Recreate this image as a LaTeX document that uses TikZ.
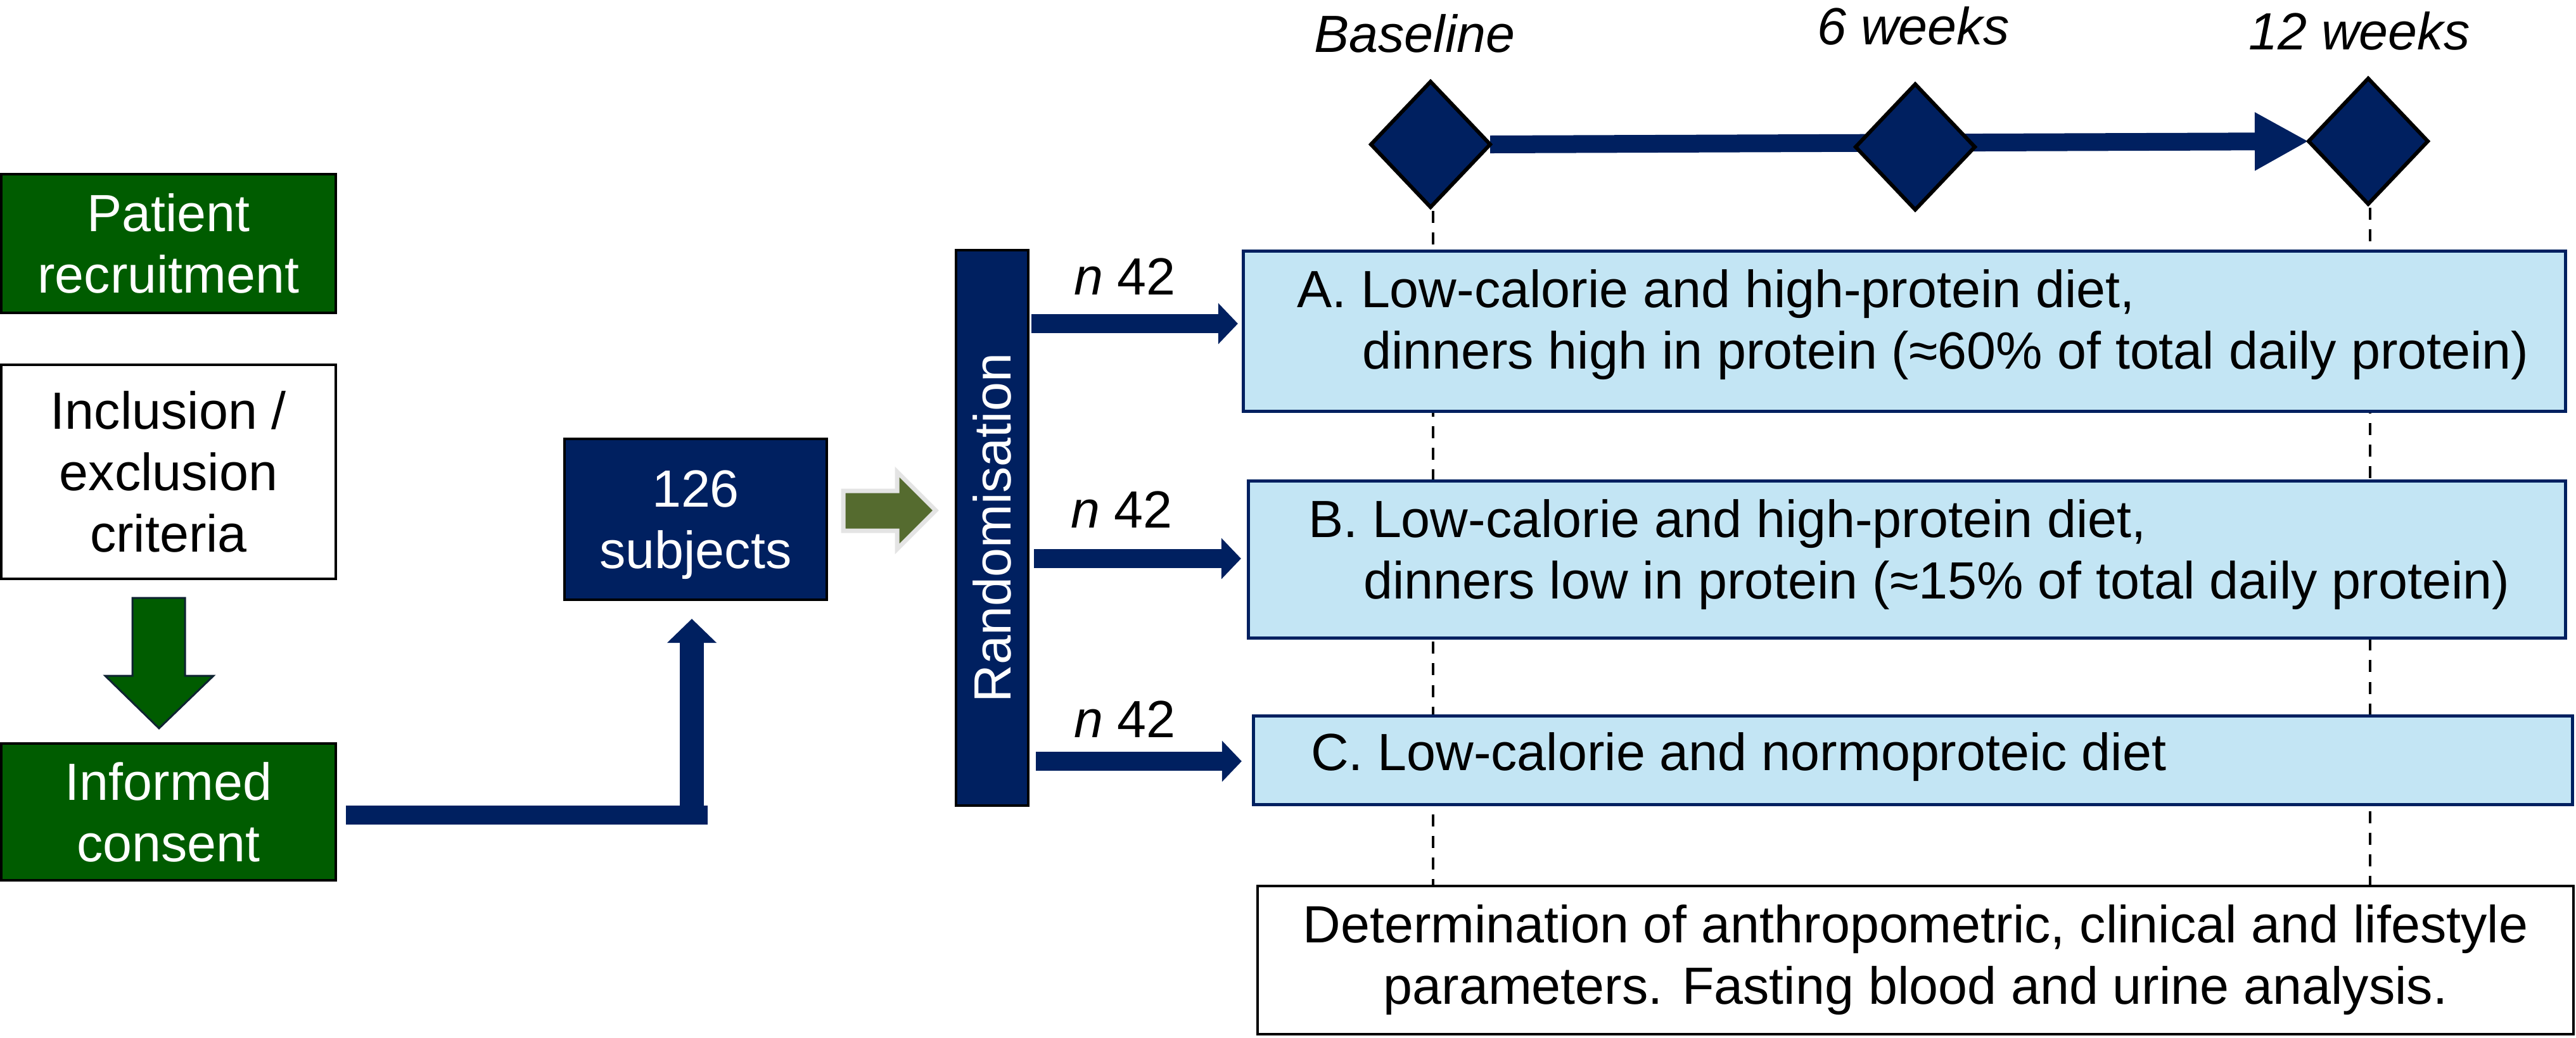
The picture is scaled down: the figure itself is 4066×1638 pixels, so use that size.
\documentclass[tikz,border=0pt]{standalone}
\usepackage{fontspec}
\setmainfont{Liberation Sans}
\usetikzlibrary{arrows.meta,shapes.geometric,calc}
\definecolor{navy}{RGB}{0,32,96}
\definecolor{dgreen}{RGB}{0,92,0}
\definecolor{olivefill}{RGB}{85,107,47}
\definecolor{olivedge}{RGB}{228,228,228}
\definecolor{lblue}{RGB}{195,229,244}
\definecolor{arrowedge}{RGB}{15,35,50}
\pgfdeclarelayer{background}
\pgfsetlayers{background,main}
\begin{document}
\begin{tikzpicture}[x=0.01cm,y=-0.01cm,
  every node/.style={font=\fontsize{23.5}{27.6}\selectfont, inner sep=0pt, outer sep=0pt},
  itfont/.style={font=\fontsize{23.5}{27.6}\selectfont\itshape},
  greenbox/.style={draw=black, line width=0.04cm, fill=dgreen, text=white, align=center},
  whitebox/.style={draw=black, line width=0.04cm, fill=white, align=center},
  navybox/.style={draw=black, line width=0.04cm, fill=navy, text=white, align=center},
  dietbox/.style={draw=navy, line width=0.05cm, fill=lblue},
  milestone/.style={diamond, draw=black, line width=0.06cm, fill=navy, minimum width=1.88cm, minimum height=1.98cm},
  grouparrow/.style={draw=navy, line width=0.3cm, -{Triangle[length=0.31cm,width=0.63cm]}},
  dashline/.style={draw=black, line width=0.04cm, dash pattern=on 0.19cm off 0.15cm}
]
\useasboundingbox (0,0) rectangle (4066,1638);

% left column
\node[greenbox, minimum width=5.28cm, minimum height=2.19cm] (pat) at (266,384.5) {Patient\\recruitment};
\node[whitebox, minimum width=5.28cm, minimum height=3.38cm] (incl) at (266,745) {Inclusion /\\exclusion\\criteria};
\node[greenbox, minimum width=5.28cm, minimum height=2.16cm] (inf) at (266,1282) {Informed\\consent};

% green block arrow
\draw[fill=dgreen, draw=arrowedge, line width=0.03cm]
  (209,944) -- (292,944) -- (292,1067) -- (337,1067) -- (251,1150) -- (166,1067) -- (209,1067) -- cycle;

% subjects
\node[navybox, minimum width=4.14cm, minimum height=2.54cm] (sub) at (1098,820) {126\\\smash{subjects}};

% L arrow
\coordinate (Lc) at (1092,1287);
\draw[draw=navy, line width=0.3cm] ($(inf.east)+(16,5)$) -- ($(Lc)+(25,0)$);
\draw[draw=navy, line width=0.38cm, -{Triangle[length=0.38cm,width=0.76cm]}, shorten >=0.3cm]
  ($(Lc)+(0,15)$) -- (Lc |- sub.south);

% olive block arrow
\draw[fill=olivefill, draw=olivedge, line width=0.07cm]
  (1331,775) -- (1416,775) -- (1416,745) -- (1477,806) -- (1416,867) -- (1416,838) -- (1331,838) -- cycle;

% randomisation bar
\node[navybox, rotate=90, minimum width=8.77cm, minimum height=1.14cm] (rand) at (1566,833.5) {Randomisation};

% diet boxes
\node[dietbox, minimum width=20.85cm, minimum height=2.53cm] (boxA) at (3006,523) {};
\node[anchor=north west, align=left] (txtA) at (2047,426) {A. Low-calorie and high-protein diet,\\\hspace*{1.03cm}dinners high in protein (≈60\% of total daily protein)};
\node[dietbox, minimum width=20.77cm, minimum height=2.48cm] (boxB) at (3010,883.5) {};
\node[anchor=north west, align=left] (txtB) at (2065,789) {B. Low-calorie and high-protein diet,\\\hspace*{0.87cm}dinners low in protein (≈15\% of total daily protein)};
\node[dietbox, minimum width=20.80cm, minimum height=1.40cm] (boxC) at (3019.5,1200.5) {};
\node[anchor=base west] (txtC) at (2069,1216) {C. Low-calorie and normoproteic diet};

% measurement box
\node[whitebox, minimum width=20.75cm, minimum height=2.34cm] (meas) at (3023.5,1516) {Determination of anthropometric, clinical and lifestyle\\parameters. Fasting blood and urine analysis.};

% group arrows
\coordinate (yA) at (0,511);
\coordinate (yB) at (0,882);
\coordinate (yC) at (0,1202);
\draw[grouparrow, shorten <=0.05cm, shorten >=0.09cm] (rand.south |- yA) -- (boxA.west |- yA);
\draw[grouparrow, shorten <=0.09cm, shorten >=0.12cm] (rand.south |- yB) -- (boxB.west |- yB);
\draw[grouparrow, shorten <=0.12cm, shorten >=0.19cm] (rand.south |- yC) -- (boxC.west |- yC);
\node[anchor=base west] (nA) at (1695,465) {\textit{n} 42};
\node[anchor=base west] (nB) at (1690,833) {\textit{n} 42};
\node[anchor=base west] (nC) at (1695,1164) {\textit{n} 42};

% timeline
\node[itfont, anchor=base] (tBase) at (2233,82) {Baseline};
\node[itfont, anchor=base] (t6) at (3020,70) {6 weeks};
\node[itfont, anchor=base] (t12) at (3724,78) {12 weeks};
\node[milestone] (d1) at (2258,228) {};
\node[milestone] (d2) at (3023,232) {};
\node[milestone] (d3) at (3738,223) {};
\begin{pgfonlayer}{background}
\draw[draw=navy, line width=0.28cm, -{Triangle[length=0.85cm,width=0.86cm]}] (d1.east) -- (d3.west);
\coordinate (b1) at ($(d1.south)+(4,6)$);
\coordinate (b3) at ($(d3.south)+(3,6)$);
\draw[dashline] (b1) -- (b1 |- meas.north);
\draw[dashline] (b3) -- (b3 |- meas.north);
\end{pgfonlayer}
\end{tikzpicture}
\end{document}
